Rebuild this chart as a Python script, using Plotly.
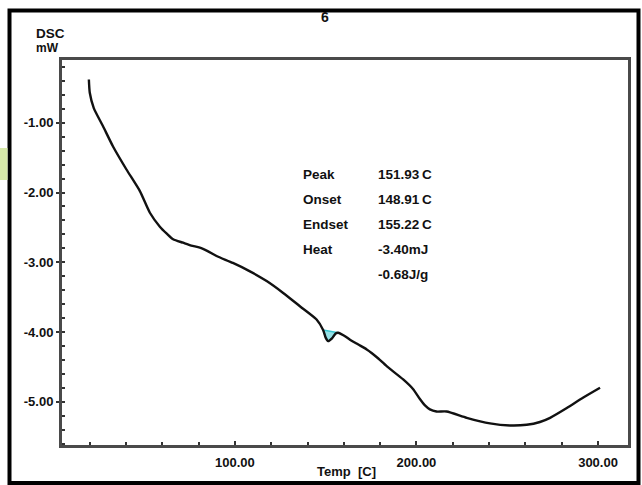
import plotly.graph_objects as go

# ---- data ----
temp_c = [19.6, 20.1, 22.3, 27.4, 32.9, 40.3, 47.7, 53.2, 58.7, 62.5, 66.0, 71.5, 76.0,
          80.7, 85.0, 89.9, 98.9, 108.3, 117.5, 126.6, 135.8, 145.0, 148.6, 150.0,
          151.4, 153.5, 155.5, 156.9, 160.0, 163.4, 168.0, 172.6, 175.3, 179.0,
          183.6, 192.7, 198.2, 201.9, 205.0, 207.4, 211.0, 216.6, 227.7, 240.5,
          251.5, 260.7, 268.0, 273.6, 282.8, 291.9, 301.1]
dsc_mw = [-0.38, -0.57, -0.79, -1.05, -1.34, -1.67, -1.98, -2.29, -2.49, -2.59, -2.67, -2.72, -2.76,
          -2.79, -2.84, -2.91, -3.01, -3.13, -3.27, -3.44, -3.63, -3.82, -3.97, -4.08,
          -4.13, -4.09, -4.02, -4.01, -4.05, -4.11, -4.18, -4.25, -4.30, -4.38,
          -4.49, -4.68, -4.82, -4.96, -5.06, -5.11, -5.14, -5.14, -5.23, -5.31,
          -5.34, -5.33, -5.29, -5.23, -5.09, -4.94, -4.80]

peak_temp = [148.6, 150.0, 151.4, 153.5, 155.5, 156.9]
peak_dsc = [-3.97, -4.08, -4.13, -4.09, -4.02, -4.01]

x_tick_vals = [100, 200, 300]
x_tick_text = ["100.00", "200.00", "300.00"]
y_tick_vals = [-1, -2, -3, -4, -5]
y_tick_text = ["-1.00", "-2.00", "-3.00", "-4.00", "-5.00"]

info_labels = ["Peak", "Onset", "Endset", "Heat", ""]
info_values = ["151.93\u2009C", "148.91\u2009C", "155.22\u2009C", "-3.40mJ", "-0.68J/g"]

title_text = "6"
y_unit_lines = ["DSC", "mW"]
x_title = "Temp\u00a0\u00a0[C]"

# ---- layout geometry (pixels) ----
W, H = 642, 485
L, R, T, B = 62, 628, 60, 445


def px(x):
    return (x - L) / (R - L)


def py(y):
    return (B - y) / (B - T)


def bold(s):
    return "<b>" + s + "</b>"


FONT = "Liberation Sans, Arial, sans-serif"
TXT = "#111111"

fig = go.Figure()

# peak area (cyan)
fig.add_trace(go.Scatter(
    x=peak_temp + [peak_temp[0]], y=peak_dsc + [peak_dsc[0]],
    mode="lines", fill="toself", fillcolor="rgba(64,200,210,0.55)",
    line=dict(color="#3cc6d0", width=1.5), hoverinfo="skip", showlegend=False))

fig.add_trace(go.Scatter(
    x=temp_c, y=dsc_mw, mode="lines",
    line=dict(color="#111111", width=2.4, shape="spline", smoothing=0.6),
    showlegend=False))

tickfont = dict(family=FONT, size=13, color=TXT)
minor_common = dict(ticks="inside", ticklen=3, tickwidth=2, tickcolor="#333")

fig.update_xaxes(range=[4.8, 316.5], automargin=False,
                 tickvals=x_tick_vals, ticktext=[bold(t) for t in x_tick_text],
                 minor=dict(dtick=20, tick0=0, **minor_common),
                 ticks="inside", ticklen=4, tickwidth=2, tickcolor="#333",
                 tickfont=tickfont, ticklabelstandoff=3,
                 showgrid=False, zeroline=False, showline=True, linecolor="#4a4a4a",
                 linewidth=3, mirror=True)
fig.update_yaxes(range=[-5.62, -0.1], automargin=False,
                 tickvals=y_tick_vals, ticktext=[bold(t) for t in y_tick_text],
                 minor=dict(dtick=0.2, tick0=0, **minor_common),
                 ticks="outside", ticklen=3, tickwidth=2, tickcolor="#333",
                 tickfont=tickfont,
                 showgrid=False, zeroline=False, showline=True, linecolor="#4a4a4a",
                 linewidth=3, mirror=True)

annotations = []
annotations.append(dict(text=bold(title_text), x=px(325), y=py(17), xref="paper", yref="paper",
                        showarrow=False, xanchor="center", yanchor="middle",
                        font=dict(family=FONT, size=14, color=TXT)))
annotations.append(dict(text=bold(x_title), x=px(346), y=py(471), xref="paper", yref="paper",
                        showarrow=False, xanchor="center", yanchor="middle",
                        font=dict(family=FONT, size=13, color=TXT)))
unit_sizes = [13.5, 12]
unit_y = [34, 48]
for t, s, yy in zip(y_unit_lines, unit_sizes, unit_y):
    annotations.append(dict(text=bold(t), x=px(34), y=py(yy), xref="paper", yref="paper",
                            showarrow=False, xanchor="left", yanchor="middle",
                            font=dict(family=FONT, size=s, color=TXT)))
row_y = [174, 199, 224, 249, 274]
for lab, val, yy in zip(info_labels, info_values, row_y):
    if lab:
        annotations.append(dict(text=bold(lab), x=px(301), y=py(yy), xref="paper", yref="paper",
                                showarrow=False, xanchor="left", yanchor="middle",
                                font=dict(family=FONT, size=13.5, color=TXT)))
    annotations.append(dict(text=bold(val), x=px(376), y=py(yy), xref="paper", yref="paper",
                            showarrow=False, xanchor="left", yanchor="middle",
                            font=dict(family=FONT, size=13.5, color=TXT)))

shapes = [
    # outer black frame
    dict(type="rect", xref="paper", yref="paper",
         x0=px(9.5), x1=px(638.5), y0=py(483), y1=py(10.5),
         line=dict(color="#000000", width=4), fillcolor="rgba(0,0,0,0)", layer="below"),
    # light green patch at far left edge
    dict(type="rect", xref="paper", yref="paper",
         x0=px(0), x1=px(7.5), y0=py(180), y1=py(148),
         line=dict(width=0), fillcolor="#d6e8a8", layer="below"),
]

fig.update_layout(
    width=W, height=H,
    margin=dict(l=L, r=W - R, t=T, b=H - B),
    paper_bgcolor="white", plot_bgcolor="white",
    annotations=annotations, shapes=shapes,
    showlegend=False,
)

fig.write_html("out.html", config={"displayModeBar": False},
               post_script="document.body.style.margin='0';document.body.style.padding='0';")
